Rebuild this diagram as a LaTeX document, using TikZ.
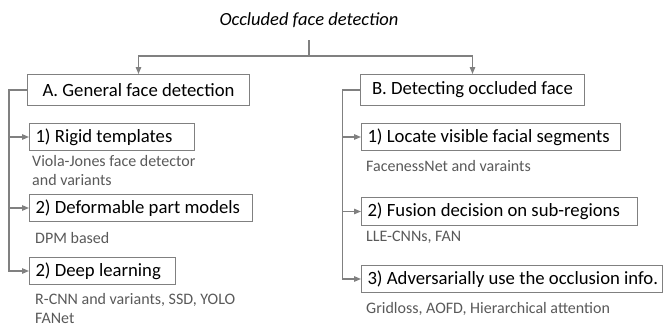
\documentclass[tikz,border=0pt]{standalone}
\usepackage{fontspec}
\setmainfont{Carlito}
\usetikzlibrary{arrows.meta}
\definecolor{linegray}{HTML}{808080}
\definecolor{notegray}{HTML}{595959}
\begin{document}
\begin{tikzpicture}[x=1pt,y=-1pt,
  conn/.style={color=linegray,line width=1.2pt},
  arr/.style={conn,-{Triangle[length=7pt,width=5.5pt]}},
  catbox/.style={draw=linegray,line width=1pt,anchor=north west,inner sep=0pt,minimum height=31pt,font=\fontsize{18.7}{22}\selectfont},
  subbox/.style={draw=linegray,line width=1pt,anchor=north west,inner xsep=6pt,inner ysep=0pt,minimum height=27pt,font=\fontsize{18.7}{22}\selectfont,
    execute at begin node={\hbox to #1\bgroup},execute at end node={\hss\egroup}},
  note/.style={text=notegray,anchor=west,inner sep=0pt,align=left,font=\fontsize{16}{19}\selectfont}]
\useasboundingbox (0,0) rectangle (663,327);
\node[font=\fontsize{18.5}{22}\selectfont\itshape] (title) at (309,20) {Occluded face detection};
\coordinate (split) at (309,56);
\node[catbox,minimum width=222pt] (genA) at (27,74) {A. General face detection};
\node[catbox,minimum width=224pt] (occB) at (360,74) {B. Detecting occluded face};
\draw[conn] ([yshift=-9pt]title.south) -- (split);
\draw[arr] (split) -| (genA.north);
\draw[arr] (split) -| (occB.north);
\node[subbox=153pt] (rigid) at (29,123) {1) Rigid templates};
\node[subbox=211pt] (dpm) at (29,194) {2) Deformable part models};
\node[subbox=134pt] (deep) at (29,257) {2) Deep learning};
\node[note] (rigidnote) at (32,170.5) {Viola-Jones face detector\\and variants};
\node[note] (dpmnote) at (35,238) {DPM based};
\node[note] (deepnote) at (35,308.5) {R-CNN and variants, SSD, YOLO\\FANet};
\coordinate (spineA) at (9,0);
\draw[arr] (genA.west) -- (genA.west -| spineA) |- (deep.west);
\draw[arr] (rigid.west -| spineA) -- (rigid.west);
\draw[arr] (dpm.west -| spineA) -- (dpm.west);
\node[subbox=247pt] (locate) at (361,123) {1) Locate visible facial segments};
\node[subbox=264pt,minimum height=28pt] (fusion) at (361,197) {2) Fusion decision on sub-regions};
\node[subbox=289pt] (advers) at (361,265) {3) Adversarially use the occlusion info.};
\node[note] (locatenote) at (366,166) {FacenessNet and varaints};
\node[note] (fusionnote) at (366,237) {LLE-CNNs, FAN};
\node[note] (adversnote) at (366,309) {Gridloss, AOFD, Hierarchical attention};
\coordinate (spineB) at (342.5,0);
\draw[arr] (occB.west) -- (occB.west -| spineB) |- (advers.west);
\draw[arr] (locate.west -| spineB) -- (locate.west);
\draw[arr] (fusion.west -| spineB) -- (fusion.west);
\end{tikzpicture}
\end{document}
